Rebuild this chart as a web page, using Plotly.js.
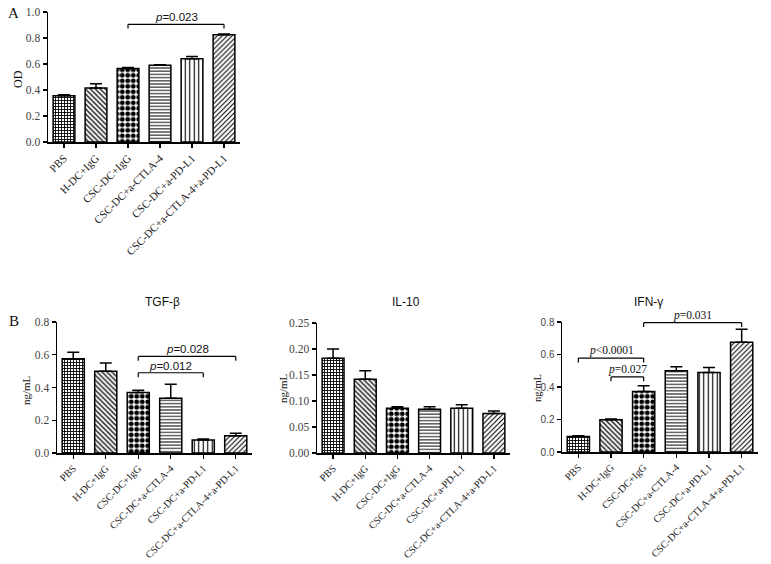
<!DOCTYPE html>
<html>
<head>
<meta charset="utf-8">
<script src="https://cdn.plot.ly/plotly-3.0.1.min.js"></script>
<style>
  html, body { margin: 0; padding: 0; background: #fff; }
  #plot { width: 771px; height: 564px; }
</style>
</head>
<body>
<div id="plot"></div>
<script>
// group labels (same for every panel)
const groups = ['PBS', 'H-DC+IgG', 'CSC-DC+IgG', 'CSC-DC+a-CTLA-4', 'CSC-DC+a-PD-L1', 'CSC-DC+a-CTLA-4+a-PD-L1'];

// panel A: OD
const odMean = [0.355, 0.415, 0.565, 0.59, 0.64, 0.825];
const odErr = [0.008, 0.033, 0.008, 0.004, 0.018, 0.005];

// panel B: cytokines (ng/mL)
const tgfMean = [0.575, 0.5, 0.37, 0.335, 0.08, 0.105];
const tgfErr = [0.04, 0.05, 0.013, 0.085, 0.006, 0.015];
const il10Mean = [0.182, 0.142, 0.086, 0.084, 0.086, 0.076];
const il10Err = [0.018, 0.016, 0.003, 0.005, 0.007, 0.005];
const ifnMean = [0.095, 0.198, 0.372, 0.5, 0.49, 0.675];
const ifnErr = [0.005, 0.005, 0.035, 0.025, 0.03, 0.08];

// significance brackets: [from group, to group, height, label]
const odSig = [[2, 5, 0.905, '<i>p</i>=0.023']];
const tgfSig = [[2, 5, 0.59, '<i>p</i>=0.028'], [2, 4, 0.49, '<i>p</i>=0.012']];
const ifnSig = [[0, 2, 0.578, '<i>p</i>&lt;0.0001'], [1, 2, 0.462, '<i>p</i>=0.027'], [2, 5, 0.796, '<i>p</i>=0.031']];

const SERIF = '"Liberation Serif", "Times New Roman", serif';
const SANS = '"Liberation Sans", Arial, sans-serif';

const pattern = {
    shape: ['+', '\\', '.', '-', '|', '/'],
    size: [3, 3.5, 5.5, 3.2, 4.5, 3.5],
    solidity: [0.5, 0.35, 0.6, 0.3, 0.25, 0.3],
    fgcolor: '#000',
    bgcolor: '#fff',
    fillmode: 'replace'
};

function barTrace(mean, err, xa, ya) {
    return {
        type: 'bar',
        x: groups,
        y: mean,
        xaxis: xa, yaxis: ya,
        width: 0.68,
        marker: { color: '#fff', pattern: pattern, line: { color: '#000', width: 1.5 } },
        error_y: {
            type: 'data', symmetric: false, array: err,
            arrayminus: err.map(() => 0),
            color: '#000', thickness: 1.5, width: 6
        },
        showlegend: false,
        hoverinfo: 'skip'
    };
}

function xAxis(domain, anchor, size) {
    return {
        domain: domain, anchor: anchor,
        type: 'category', range: [-0.5, 5.5],
        showline: true, linecolor: '#000', linewidth: 1.5,
        ticks: 'outside', ticklen: 4, tickcolor: '#000', tickwidth: 1.2,
        tickangle: -45,
        tickfont: { family: SERIF, size: size, color: '#222' },
        showgrid: false, zeroline: false, fixedrange: true
    };
}

function yAxis(domain, anchor, max, dtick, fmt, font, size) {
    return {
        domain: domain, anchor: anchor,
        range: [0, max], dtick: dtick, tickformat: fmt,
        showline: true, linecolor: '#000', linewidth: 1.5,
        ticks: 'outside', ticklen: 4, tickcolor: '#000', tickwidth: 1.2,
        tickfont: { family: font, size: size, color: '#444' },
        showgrid: false, zeroline: false, fixedrange: true
    };
}

const shapes = [];
const annotations = [];

function addBrackets(sig, xa, ya, drop, font) {
    sig.forEach(([a, b, h, label]) => {
        const line = { color: '#000', width: 1.2 };
        const ref = { xref: xa, yref: ya };
        shapes.push({ type: 'line', ...ref, x0: a, x1: b, y0: h, y1: h, line });
        shapes.push({ type: 'line', ...ref, x0: a, x1: a, y0: h, y1: h - drop, line });
        shapes.push({ type: 'line', ...ref, x0: b, x1: b, y0: h, y1: h - drop, line });
        annotations.push({
            ...ref, x: (a + b) / 2, y: h, yanchor: 'bottom', yshift: -1,
            text: label, showarrow: false,
            font: { family: font, size: 11.5, color: '#111' }
        });
    });
}

addBrackets(odSig, 'x', 'y', 0.032, SANS);
addBrackets(tgfSig, 'x2', 'y2', 0.027, SANS);
addBrackets(ifnSig, 'x4', 'y4', 0.027, SERIF);

function paperText(text, x, y, size, font, angle) {
    annotations.push({
        xref: 'paper', yref: 'paper', x: x, y: y,
        xanchor: 'center', yanchor: 'middle',
        text: text, showarrow: false, textangle: angle || 0,
        font: { family: font, size: size, color: '#111' }
    });
}

// panel letters, axis titles, panel titles
paperText('A', 13 / 771, 1 - 13 / 564, 15, SERIF);
paperText('B', 14 / 771, 1 - 321 / 564, 15, SERIF);
paperText('OD', 18 / 771, 1 - 79 / 564, 12, SERIF, -90);
paperText('ng/mL', 26 / 771, 1 - 390 / 564, 11, SERIF, -90);
paperText('ng/mL', 283 / 771, 1 - 388 / 564, 11, SERIF, -90);
paperText('ng/mL', 537 / 771, 1 - 388 / 564, 10.5, SERIF, -90);
paperText('TGF-β', 162 / 771, 1 - 302 / 564, 12, SANS);
paperText('IL-10', 406 / 771, 1 - 302 / 564, 12, SANS);
paperText('IFN-γ', 648 / 771, 1 - 302 / 564, 12, SANS);

const data = [
    barTrace(odMean, odErr, 'x', 'y'),
    barTrace(tgfMean, tgfErr, 'x2', 'y2'),
    barTrace(il10Mean, il10Err, 'x3', 'y3'),
    barTrace(ifnMean, ifnErr, 'x4', 'y4')
];

const layout = {
    width: 771, height: 564,
    margin: { l: 0, r: 0, t: 0, b: 0 },
    paper_bgcolor: '#fff', plot_bgcolor: '#fff',
    showlegend: false,
    xaxis: xAxis([48 / 771, 240 / 771], 'y', 11),
    yaxis: yAxis([1 - 142 / 564, 1 - 12 / 564], 'x', 1.0, 0.2, '.1f', SERIF, 11.5),
    xaxis2: xAxis([57 / 771, 252 / 771], 'y2', 10.2),
    yaxis2: yAxis([1 - 453 / 564, 1 - 322 / 564], 'x2', 0.8, 0.2, '.1f', SERIF, 11.5),
    xaxis3: xAxis([317 / 771, 510 / 771], 'y3', 10.2),
    yaxis3: yAxis([1 - 453 / 564, 1 - 323 / 564], 'x3', 0.25, 0.05, '.2f', SERIF, 11.5),
    xaxis4: xAxis([562 / 771, 758 / 771], 'y4', 10.2),
    yaxis4: yAxis([1 - 452 / 564, 1 - 322 / 564], 'x4', 0.8, 0.2, '.1f', SANS, 10),
    shapes: shapes,
    annotations: annotations
};

Plotly.newPlot('plot', data, layout, { displayModeBar: false, staticPlot: true });
</script>
</body>
</html>
